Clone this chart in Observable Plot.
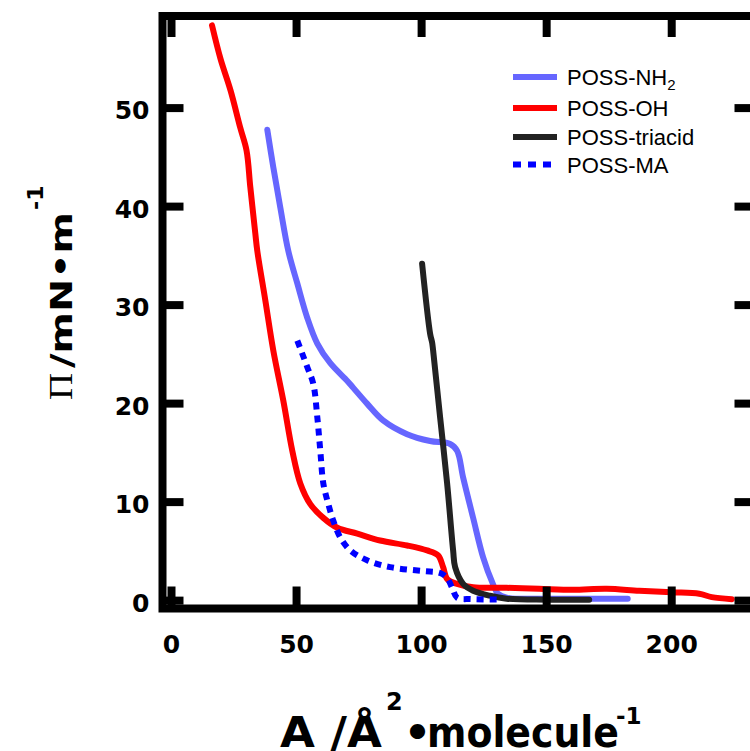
<!DOCTYPE html>
<html>
<head>
<meta charset="utf-8">
<script src="https://cdn.jsdelivr.net/npm/d3@7"></script>
<script src="https://cdn.jsdelivr.net/npm/@observablehq/plot@0.6"></script>
<style>
html, body { margin: 0; padding: 0; background: #fff; overflow: hidden; }
#wrap { position: relative; width: 750px; height: 751px; overflow: hidden; }
#wrap svg { max-width: none !important; display: block; }
</style>
</head>
<body>
<div id="wrap"></div>
<script>
// ---- data ----
const seriesNames = ["POSS-NH2", "POSS-OH", "POSS-triacid", "POSS-MA"];

const areaNH2 = [38.3, 40.7, 43.5, 46.7, 50.3, 54.3, 58.3, 63.5, 70.3, 72.7, 78.2, 84.6, 94.2, 103.4, 111.4, 114.2, 116.6, 120.6, 124.6, 128.5, 130.5, 134, 150, 165, 182.4];
const piNH2   = [47.8, 44.0, 39.9, 35.5, 32.2, 28.7, 26.1, 24.1, 22.3, 21.6, 20.0, 18.3, 16.9, 16.2, 15.9, 15.2, 12.5, 8.4, 4.4, 1.7, 0.7, 0.3, 0.2, 0.2, 0.2];

const areaOH = [16.2, 19.6, 23.6, 27.5, 30, 31.5, 33.5, 34.3, 37.5, 40.7, 44.7, 48.3, 51.5, 55.5, 60.7, 66.3, 74.3, 83.4, 94.2, 102.2, 106.6, 108.6, 110.2, 114.2, 120.6, 134, 147, 160.5, 174, 187, 200, 211, 216, 224];
const piOH   = [58.4, 55.0, 51.8, 48.0, 45.7, 42.0, 37.3, 35.5, 30.5, 25.4, 20.3, 15.2, 11.9, 9.8, 8.4, 7.4, 6.8, 6.1, 5.6, 5.1, 4.6, 3.4, 2.2, 1.7, 1.35, 1.3, 1.2, 1.1, 1.2, 1.0, 0.85, 0.7, 0.35, 0.15];

const areaTri = [100.2, 103.4, 104.2, 104.6, 107.4, 110.2, 112.6, 113.4, 116.6, 120.6, 127.3, 134, 150, 167];
const piTri   = [34.2, 27.1, 26.2, 25.4, 18.6, 11.9, 5.1, 3.4, 1.7, 1.0, 0.5, 0.2, 0.1, 0.1];

const areaMA = [50.3, 54.3, 56.7, 58.3, 59.5, 60.7, 62.7, 64.7, 67.5, 71.5, 78.2, 87.4, 100.6, 107.4, 110.2, 112.2, 114.2, 120, 131.3];
const piMA   = [26.4, 23.7, 22.0, 18.6, 15.2, 11.9, 9.8, 8.1, 6.4, 5.1, 4.1, 3.4, 3.0, 2.8, 2.3, 1.3, 0.3, 0.15, 0.1];

const xTicks = [0, 50, 100, 150, 200];
const yTicks = [0, 10, 20, 30, 40, 50];

const colors = {"POSS-NH2": "#6666ff", "POSS-OH": "#ff0000", "POSS-triacid": "#222222", "POSS-MA": "#0000ff"};

// ---- build rows ----
function rows(name, xs, ys) { return xs.map((a, i) => ({series: name, a, p: ys[i]})); }
const rNH2 = rows("POSS-NH2", areaNH2, piNH2);
const rOH  = rows("POSS-OH", areaOH, piOH);
const rTri = rows("POSS-triacid", areaTri, piTri);
const rMA  = rows("POSS-MA", areaMA, piMA);

// ---- layout ----
const W = 764, H = 751;
const mL = 162, mR = 8, mT = 15.5, mB = 143;
const plotW = W - mL - mR, plotH = H - mT - mB;
const tickLen = 21.5;
const tickFont = {fontSize: 25, fontWeight: "bold", fontFamily: "DejaVu Sans, sans-serif", fill: "black"};
const lw = 6;

const plot = Plot.plot({
  width: W, height: H,
  marginLeft: mL, marginRight: mR, marginTop: mT, marginBottom: mB,
  x: {domain: [-3.6, 233.9]},
  y: {domain: [-0.8, 59.35]},
  style: {background: "white", color: "black"},
  marks: [
    Plot.line(rNH2, {x: "a", y: "p", stroke: colors["POSS-NH2"], strokeWidth: lw, strokeLinejoin: "round", curve: "catmull-rom"}),
    Plot.line(rOH,  {x: "a", y: "p", stroke: colors["POSS-OH"], strokeWidth: lw, strokeLinejoin: "round", curve: "catmull-rom"}),
    Plot.line(rTri, {x: "a", y: "p", stroke: colors["POSS-triacid"], strokeWidth: lw, strokeLinejoin: "round", curve: "catmull-rom"}),
    Plot.line(rMA,  {x: "a", y: "p", stroke: colors["POSS-MA"], strokeWidth: lw, strokeDasharray: "7,6", strokeLinecap: "butt", curve: "catmull-rom"}),
    Plot.frame({stroke: "black", strokeWidth: 8}),
    // inward ticks on all four sides
    Plot.tickX(xTicks, {x: d => d, insetTop: plotH - tickLen, stroke: "black", strokeWidth: 8}),
    Plot.tickX(xTicks, {x: d => d, insetBottom: plotH - tickLen, stroke: "black", strokeWidth: 8}),
    Plot.tickY(yTicks, {y: d => d, insetRight: plotW - tickLen, stroke: "black", strokeWidth: 8}),
    Plot.tickY(yTicks, {y: d => d, insetLeft: plotW - tickLen, stroke: "black", strokeWidth: 8}),
    Plot.axisX(xTicks, {anchor: "bottom", tickSize: 0, tickPadding: 27, label: null, ...tickFont}),
    Plot.axisY(yTicks, {anchor: "left", tickSize: 0, tickPadding: 13, dy: 3, label: null, ...tickFont})
  ]
});

document.getElementById("wrap").appendChild(plot);

const svg = d3.select(plot);

// ---- x axis title: A /Å²•molecule⁻¹ ----
const xt = svg.append("g").attr("font-family", "DejaVu Sans, sans-serif").attr("font-weight", "bold")
  .attr("fill", "black").attr("text-anchor", "start");
xt.append("text").attr("x", 280).attr("y", 747).attr("font-size", 43)
  .attr("textLength", 102).attr("lengthAdjust", "spacingAndGlyphs").text("A /Å");
xt.append("text").attr("x", 386).attr("y", 710).attr("font-size", 24).text("2");
xt.append("text").attr("x", 417.5).attr("y", 747).attr("font-size", 43).attr("text-anchor", "middle").text("•");
xt.append("text").attr("x", 427).attr("y", 747).attr("font-size", 43)
  .attr("textLength", 192).attr("lengthAdjust", "spacingAndGlyphs").text("molecule");
xt.append("text").attr("x", 616).attr("y", 724).attr("font-size", 23).text("-1");

// ---- y axis title: Π /mN•m⁻¹ ----
const yt = svg.append("g").attr("transform", "translate(72,400) rotate(-90)").attr("fill", "black").attr("text-anchor", "start");
yt.append("text").attr("x", 0).attr("y", 0).attr("font-family", "Liberation Serif, serif").attr("font-size", 34)
  .attr("textLength", 27).attr("lengthAdjust", "spacingAndGlyphs").text("Π");
yt.append("text").attr("x", 32).attr("y", 0).attr("font-family", "DejaVu Sans, sans-serif").attr("font-weight", "bold").attr("font-size", 30)
  .attr("textLength", 156).attr("lengthAdjust", "spacingAndGlyphs").text("/mN•m");
yt.append("text").attr("x", 190).attr("y", -29).attr("font-family", "DejaVu Sans, sans-serif").attr("font-weight", "bold").attr("font-size", 22).text("-1");

// ---- legend ----
const lg = svg.append("g").attr("font-family", "Liberation Sans, Arial, sans-serif").attr("font-size", 22)
  .attr("fill", "black").attr("text-anchor", "start");
const legendRows = [
  {name: "POSS-NH2", label: ["POSS-NH", "2"], cy: 77, dash: null},
  {name: "POSS-OH", label: ["POSS-OH"], cy: 108, dash: null},
  {name: "POSS-triacid", label: ["POSS-triacid"], cy: 137, dash: null},
  {name: "POSS-MA", label: ["POSS-MA"], cy: 164.5, dash: "8,7"}
];
legendRows.forEach(r => {
  const ln = lg.append("line").attr("x1", 513).attr("x2", 557).attr("y1", r.cy).attr("y2", r.cy)
    .attr("stroke", colors[r.name]).attr("stroke-width", 6);
  if (r.dash) ln.attr("stroke-dasharray", r.dash);
  const t = lg.append("text").attr("x", 567).attr("y", r.cy + 8);
  t.append("tspan").text(r.label[0]);
  if (r.label[1]) t.append("tspan").attr("font-size", 15).attr("dy", 5).text(r.label[1]);
});
</script>
</body>
</html>
